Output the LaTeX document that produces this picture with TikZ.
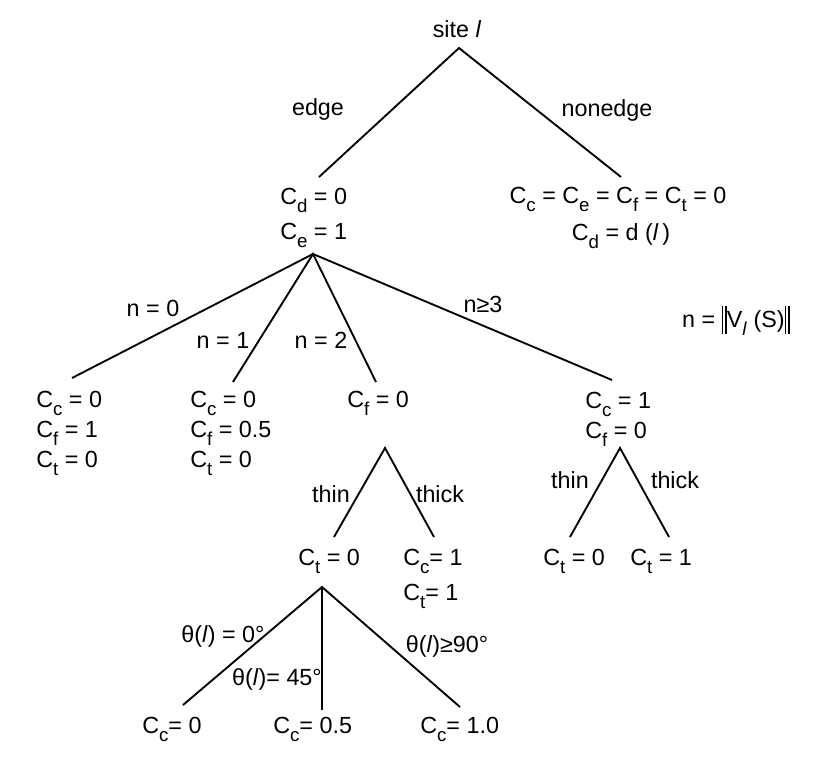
\documentclass[tikz,border=0pt]{standalone}
\usepackage{fontspec}
\setmainfont{Liberation Sans}
\newcommand{\sbx}[1]{\raisebox{-0.38em}{\fontsize{14}{14}\selectfont #1}}
\newcommand{\il}{\textit{l}}
\newcommand{\dbar}{\rule[-0.28em]{0.07em}{1.2em}\hspace{0.08em}\rule[-0.28em]{0.07em}{1.2em}}
\begin{document}
\begin{tikzpicture}[x=0.75pt,y=-0.75pt,
  every node/.style={inner sep=0pt,font=\fontsize{17.5}{20}\selectfont},
  lbl/.style={anchor=base},
  blk/.style={anchor=base west},
  br/.style={line width=1.4pt,line join=miter}]
\useasboundingbox (0,0) rectangle (826,764);

% root
\node[lbl] (root) at (457,37) {site \il};
\coordinate (r0) at (459,48);
\coordinate (e1) at (319,177);
\coordinate (ne1) at (621,177);
\draw[br] (e1) -- (r0) -- (ne1);
\node[lbl] (ledge) at (318,115) {edge};
\node[lbl] (lnon) at (607,116) {nonedge};

% edge node
\node[blk] (cd) at (280,204) {C\sbx{d} = 0};
\node[blk] (ce) at (280,239) {C\sbx{e} = 1};
% nonedge node
\node[lbl] (nea) at (618,203) {C\sbx{c} = C\sbx{e} = C\sbx{f} = C\sbx{t} = 0};
\node[lbl] (neb) at (621,240) {C\sbx{d} = d (\il\,)};

% n branches
\coordinate (a1) at (313,254);
\coordinate (n0) at (72,378);
\coordinate (n1) at (233,382);
\coordinate (n2) at (376,382);
\coordinate (n3) at (612,380);
\draw[br] (n0) -- (a1) -- (n3);
\draw[br] (n1) -- (a1) -- (n2);
\node[lbl] (ln0) at (153,316) {n = 0};
\node[lbl] (ln1) at (223,348) {n = 1};
\node[lbl] (ln2) at (321,348) {n = 2};
\node[lbl] (ln3) at (483,312) {n≥3};
\node[lbl] (ndef) at (736,327) {n = \dbar V\sbx{\il} (S)\dbar};

% leaf n=0
\node[blk] (l0a) at (36,407) {C\sbx{c} = 0};
\node[blk] (l0b) at (36,437) {C\sbx{f} = 1};
\node[blk] (l0c) at (36,467) {C\sbx{t} = 0};
% leaf n=1
\node[blk] (l1a) at (190,407) {C\sbx{c} = 0};
\node[blk] (l1b) at (190,437) {C\sbx{f} = 0.5};
\node[blk] (l1c) at (190,467) {C\sbx{t} = 0};
% n=2
\node[blk] (l2a) at (347,407) {C\sbx{f} = 0};
% n>=3
\node[blk] (l3a) at (585,408) {C\sbx{c} = 1};
\node[blk] (l3b) at (585,438) {C\sbx{f} = 0};

% thin/thick under n=2
\coordinate (a2) at (385,448);
\coordinate (t2a) at (334,537);
\coordinate (t2b) at (434,537);
\draw[br] (t2a) -- (a2) -- (t2b);
\node[lbl] (lthin2) at (331,502) {thin};
\node[lbl] (lthick2) at (440,502) {thick};
\node[blk] (ct0) at (298,565) {C\sbx{t} = 0};
\node[blk] (cc1) at (403,565) {C\sbx{c}= 1};
\node[blk] (ct1) at (403,600) {C\sbx{t}= 1};

% theta branches
\coordinate (a3) at (322,587);
\coordinate (th0) at (183,705);
\coordinate (th1) at (322,710);
\coordinate (th2) at (460,707);
\draw[br] (th0) -- (a3) -- (th2);
\draw[br] (a3) -- (th1);
\node[lbl] (lth0) at (223,642) {θ(\il) = 0°};
\node[lbl] (lth1) at (277,685) {θ(\il)= 45°};
\node[lbl] (lth2) at (447,652) {θ(\il)≥90°};
\node[blk] (cc00) at (142,733) {C\sbx{c}= 0};
\node[blk] (cc05) at (273,733) {C\sbx{c}= 0.5};
\node[blk] (cc10) at (420,733) {C\sbx{c}= 1.0};

% thin/thick under n>=3
\coordinate (a4) at (620,448);
\coordinate (t4a) at (570,537);
\coordinate (t4b) at (669,537);
\draw[br] (t4a) -- (a4) -- (t4b);
\node[lbl] (lthin4) at (570,488) {thin};
\node[lbl] (lthick4) at (675,488) {thick};
\node[blk] (r4a) at (543,565) {C\sbx{t} = 0};
\node[blk] (r4b) at (630,565) {C\sbx{t} = 1};
\end{tikzpicture}
\end{document}
